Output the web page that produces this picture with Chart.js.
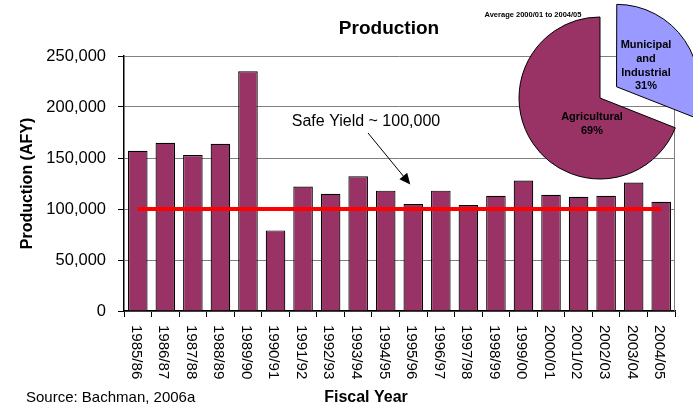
<!DOCTYPE html>
<html>
<head>
<meta charset="utf-8">
<title>Production</title>
<script src="https://cdn.jsdelivr.net/npm/chart.js@4.4.1/dist/chart.umd.min.js"></script>
<style>
  html, body { margin: 0; padding: 0; background: #fff; overflow: hidden; }
  #wrap { position: relative; width: 693px; height: 413px; overflow: hidden; }
  #bars { position: absolute; left: 0; top: 0; }
  #pie { position: absolute; left: 500px; top: -2px; }
</style>
</head>
<body>
<div id="wrap">
  <canvas id="bars" width="693" height="413"></canvas>
  <canvas id="pie" width="200" height="200"></canvas>
</div>
<script>
// values
const fiscalYears = ['1985/86','1986/87','1987/88','1988/89','1989/90','1990/91','1991/92','1992/93','1993/94','1994/95',
  '1995/96','1996/97','1997/98','1998/99','1999/00','2000/01','2001/02','2002/03','2003/04','2004/05'];
const production = [157000,165000,153000,164000,235000,79000,122000,115000,132000,118000,
  105000,118000,104000,113000,128000,114000,112000,113000,126000,107000];
const safeYield = [100000,100000,100000,100000,100000,100000,100000,100000,100000,100000,
  100000,100000,100000,100000,100000,100000,100000,100000,100000,100000];
const yTickValues = [0,50000,100000,150000,200000,250000];
const yTickLabels = ['0','50,000','100,000','150,000','200,000','250,000'];

const pieLabels = ['Municipal and Industrial','Agricultural'];
const pieLines = [['Municipal','and','Industrial'],['Agricultural']];
const pieShares = [31,69];

const FONT = '"Liberation Sans", Arial, Helvetica, sans-serif';
Chart.defaults.font.family = FONT;
Chart.defaults.color = '#000';

// rotated category labels, titles, note and arrow
const extras = {
  id: 'extras',
  beforeDatasetsDraw(chart) {
    const {ctx, chartArea: a} = chart;
    ctx.save();
    ctx.strokeStyle = '#808080';
    ctx.lineWidth = 1;
    ctx.beginPath();
    ctx.moveTo(a.right - 0.5, a.top);
    ctx.lineTo(a.right - 0.5, a.bottom);
    ctx.stroke();
    ctx.restore();
  },
  afterDraw(chart) {
    const {ctx, chartArea: a} = chart;
    const xs = chart.scales.x, ys = chart.scales.y;
    ctx.save();
    ctx.fillStyle = '#000';

    ctx.font = '15px ' + FONT;
    ctx.textAlign = 'left';
    ctx.textBaseline = 'middle';
    fiscalYears.forEach((lab, i) => {
      ctx.save();
      ctx.translate(xs.getPixelForValue(i) - 2, a.bottom + 14);
      ctx.rotate(Math.PI / 2);
      ctx.fillText(lab, 0, 0);
      ctx.restore();
    });

    ctx.textAlign = 'center';
    ctx.font = 'bold 19px ' + FONT;
    ctx.fillText('Production', 389, 29);

    ctx.font = 'bold 16px ' + FONT;
    ctx.fillText('Fiscal Year', 366, 398);

    ctx.textAlign = 'left';
    ctx.font = '15px ' + FONT;
    ctx.fillText('Source: Bachman, 2006a', 26, 398);

    ctx.textAlign = 'center';
    ctx.font = '16px ' + FONT;
    ctx.fillText('Safe Yield ~ 100,000', 366, 122);

    // arrow pointing at the 1995/96 bar
    const tx = xs.getPixelForValue(10) - 3, ty = ys.getPixelForValue(124000);
    const sx = 368, sy = 133;
    const ang = Math.atan2(ty - sy, tx - sx);
    ctx.strokeStyle = '#000';
    ctx.lineWidth = 1;
    ctx.beginPath();
    ctx.moveTo(sx, sy);
    ctx.lineTo(tx - 8 * Math.cos(ang), ty - 8 * Math.sin(ang));
    ctx.stroke();
    ctx.beginPath();
    ctx.moveTo(tx, ty);
    ctx.lineTo(tx - 11 * Math.cos(ang) + 5 * Math.sin(ang), ty - 11 * Math.sin(ang) - 5 * Math.cos(ang));
    ctx.lineTo(tx - 11 * Math.cos(ang) - 5 * Math.sin(ang), ty - 11 * Math.sin(ang) + 5 * Math.cos(ang));
    ctx.closePath();
    ctx.fill();

    ctx.font = 'bold 7.5px ' + FONT;
    ctx.fillText('Average 2000/01 to 2004/05', 533, 15);
    ctx.restore();
  }
};

new Chart(document.getElementById('bars'), {
  type: 'bar',
  data: {
    labels: fiscalYears,
    datasets: [
      {
        type: 'line',
        label: 'Safe Yield',
        data: safeYield,
        borderColor: '#FF0000',
        borderWidth: 4,
        pointRadius: 0,
        fill: false,
        order: 0
      },
      {
        label: 'Production',
        data: production,
        backgroundColor: '#993366',
        borderColor: '#000',
        borderWidth: 1.2,
        barPercentage: 0.71,
        categoryPercentage: 1,
        order: 1
      }
    ]
  },
  options: {
    responsive: false,
    animation: false,
    layout: { padding: { top: 56, right: 18, bottom: 0, left: 0 } },
    plugins: { legend: { display: false }, tooltip: { enabled: false }, title: { display: false } },
    scales: {
      x: {
        ticks: { display: false },
        grid: { offset: true, drawOnChartArea: false, tickLength: 6, tickColor: '#000' },
        border: { color: '#000', width: 1.5 },
        afterFit: s => { s.height = 102; }
      },
      y: {
        min: 0,
        max: 250000,
        afterBuildTicks: s => { s.ticks = yTickValues.map(v => ({ value: v })); },
        ticks: { font: { size: 16.5 }, padding: 12, callback: (v, i) => yTickLabels[i] },
        grid: { color: '#808080', tickColor: '#000', tickLength: 6 },
        border: { color: '#000', width: 1.5 },
        title: { display: true, text: 'Production (AFY)', font: { size: 16, weight: 'bold' }, padding: { top: 18, bottom: 0 } },
        afterFit: s => { s.width = 124; }
      }
    }
  },
  plugins: [extras]
});

// slice labels inside the pie
const pieText = {
  id: 'pieText',
  afterDatasetsDraw(chart) {
    const {ctx} = chart;
    const arcs = chart.getDatasetMeta(0).data;
    const shifts = [[46, -53], [-8, 19]];
    ctx.save();
    ctx.fillStyle = '#000';
    ctx.font = 'bold 11px ' + FONT;
    ctx.textAlign = 'center';
    ctx.textBaseline = 'middle';
    arcs.forEach((arc, i) => {
      const lines = pieLines[i].concat(pieShares[i] + '%');
      lines.forEach((t, k) => {
        ctx.fillText(t, arc.x + shifts[i][0], arc.y + shifts[i][1] + k * 13.8);
      });
    });
    ctx.restore();
  }
};

// chart.js moves an arc by offset/4, so 80 gives the ~20px pull-out
new Chart(document.getElementById('pie'), {
  type: 'pie',
  data: {
    labels: pieLabels,
    datasets: [{
      data: pieShares,
      backgroundColor: ['#9999FF', '#993366'],
      borderColor: '#000',
      borderWidth: 1,
      offset: [80, 0]
    }]
  },
  options: {
    responsive: false,
    animation: false,
    radius: 81,
    plugins: { legend: { display: false }, tooltip: { enabled: false } }
  },
  plugins: [pieText]
});
</script>
</body>
</html>
